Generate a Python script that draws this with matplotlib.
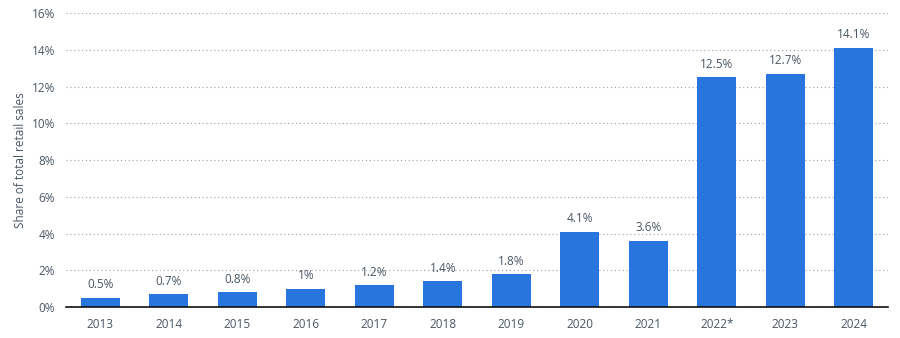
import matplotlib
matplotlib.use("Agg")
import matplotlib.pyplot as plt
from matplotlib.ticker import FuncFormatter

years = ["2013", "2014", "2015", "2016", "2017", "2018", "2019", "2020", "2021", "2022*", "2023", "2024"]
shares = [0.5, 0.7, 0.8, 1.0, 1.2, 1.4, 1.8, 4.1, 3.6, 12.5, 12.7, 14.1]
labels = ["0.5%", "0.7%", "0.8%", "1%", "1.2%", "1.4%", "1.8%", "4.1%", "3.6%", "12.5%", "12.7%", "14.1%"]

plt.rcParams['font.family'] = ['Open Sans', 'DejaVu Sans']
text_color = "#4a5563"

fig = plt.figure(figsize=(9, 3.38), dpi=100)
ax = fig.add_axes([0.0733, 0.0917, 0.9134, 0.8698])

x = range(len(years))
bars = ax.bar(x, shares, width=0.57, color="#2876dd", zorder=3)
for i, (v, lab) in enumerate(zip(shares, labels)):
    ax.text(i, v + 0.35, lab, ha="center", va="bottom", fontsize=8.5, color=text_color, zorder=4)

ax.set_xlim(-0.5, len(years) - 0.5)
ax.set_ylim(0, 16)
ax.set_yticks(range(0, 17, 2))
ax.yaxis.set_major_formatter(FuncFormatter(lambda v, p: f"{int(v)}%"))
ax.set_xticks(list(x))
ax.set_xticklabels(years)
ax.tick_params(axis="both", length=0, labelsize=8.5, colors=text_color)
ax.tick_params(axis="x", pad=8)
ax.tick_params(axis="y", pad=8)
ax.grid(axis="y", linestyle=(0, (1, 2.5)), color="#9aa0a6", linewidth=0.8, zorder=0)
for s in ["top", "right", "left"]:
    ax.spines[s].set_visible(False)
ax.spines["bottom"].set_color("#111111")
ax.spines["bottom"].set_linewidth(1.2)
ax.spines["bottom"].set_zorder(5)
ax.set_ylabel("Share of total retail sales", fontsize=8.5, color=text_color, labelpad=3)

fig.savefig("out.png", dpi=100)
